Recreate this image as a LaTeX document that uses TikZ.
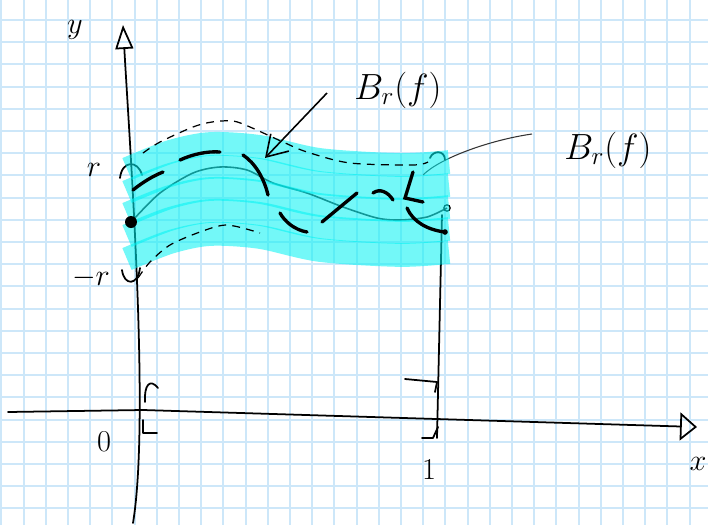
\documentclass[tikz,border=0pt]{standalone}
\usepackage{xcolor}
\usepackage{tikz}
\usetikzlibrary{arrows.meta}
\definecolor{gridblue}{HTML}{CDE7F9}
\definecolor{bandcyan}{HTML}{00F4F4}
\begin{document}
\begin{tikzpicture}[x=0.02cm, y=-0.02cm,
  every node/.style={font=\fontsize{17}{20}\selectfont},
  gridline/.style={gridblue, line width=1.1pt},
  axis/.style={black, line width=1pt, line cap=round, line join=round},
  bandstroke/.style={bandcyan, opacity=0.55, line width=13.5pt},
  thindash/.style={black, line width=0.7pt, dash pattern=on 4.5pt off 3.5pt},
  thickdash/.style={black, line width=1.9pt, line cap=round},
  biglabel/.style={font=\fontsize{21}{25}\selectfont}]
  \useasboundingbox (0,0) rectangle (708,525);
  \fill[white] (0,0) rectangle (708,525);
  \foreach \i in {0,...,31} \draw[gridline] ({1.4+22.2*\i},0) -- ++(0,525);
  \foreach \j in {1,...,23} \draw[gridline] (0,{-2.2+22.2*\j}) -- ++(708,0);
  % axes
  \coordinate (ybot) at (133,523);
  \coordinate (ytop) at (123,25);
  \coordinate (xleft) at (8,412);
  \coordinate (orig) at (143,410);
  \coordinate (xtip) at (697,427);
  \coordinate (onebot) at (437,438);
  \coordinate (onetop) at (442,215);
  \draw[axis, -{Triangle[open,length=0.48cm,width=0.36cm]}] (ybot) .. controls (150,420) and (130,150) .. (ytop);
  \draw[axis, -{Triangle[open,length=0.34cm,width=0.56cm]}] (xleft) -- (orig) -- (xtip);
  \draw[axis] (onebot) -- (onetop);
  \draw[axis] (145,402) .. controls (144,385) and (150,378) .. (158,388);
  \draw[axis] (143,420) -- (143,433) -- (157,433);
  \draw[axis] (405,379) -- (437,382) -- (435,392);
  \draw[axis] (422,438) -- (433,438) -- (438,427);
  \draw[axis] (120,178) .. controls (122,160) and (138,160) .. (142,175);
  \draw[axis] (122,270) .. controls (124,286) and (138,286) .. (140,268);
  \draw[axis] (430,158) .. controls (433,150) and (445,150) .. (445,160);
  % f
  \draw[black!85, line width=0.9pt] plot[smooth] coordinates {(133,220) (160,193) (193,173) (220,167) (247,170) (273,183) (307,193) (343,207) (377,218) (400,220) (427,217) (447,208)};
  \draw[black, line width=0.7pt] (447,208) circle[radius=1.8pt];
  % leader of the second label
  \node[biglabel] (lblB) at (608,150) {$B_r(f)$};
  \coordinate (legB) at (532,134);
  \coordinate (tipB) at (423,175);
  \draw[black!80, line width=0.6pt] (legB) .. controls (490,140) and (440,158) .. (tipB);
  % band
  \foreach \d in {-45,-22,0,22,45}
    \draw[bandstroke, shift={(0,\d)}] plot[smooth] coordinates {(127,214) (170,197) (210,189) (260,192) (320,205) (400,210) (449,207)};
  \node[circle, fill=black, inner sep=0pt, minimum size=0.24cm] (fstart) at (131,222) {};
  % r and -r
  \draw[thindash] plot[smooth] coordinates {(143,153) (160,142) (193,127) (212,122) (233,121) (250,127) (283,142) (307,152) (350,163) (413,165) (428,162)};
  \draw[thindash] plot[smooth] coordinates {(138,278) (150,262) (170,245) (200,232) (227,225) (260,233)};
  % thick dashes
  \draw[thickdash] (133,190) .. controls (143,182) and (153,176) .. (163,172);
  \draw[thickdash] (180,160) .. controls (193,154) and (208,151) .. (220,152);
  \draw[thickdash] (243,155) .. controls (255,163) and (264,178) .. (268,195);
  \draw[thickdash] (280,213) .. controls (285,222) and (295,230) .. (307,232);
  \draw[thickdash] (322,222) -- (357,193);
  \draw[thickdash] (373,193) .. controls (380,188) and (388,192) .. (393,200);
  \draw[thickdash] (413,172) -- (405,198) -- (423,202);
  \draw[thickdash] (407,208) .. controls (413,222) and (428,230) .. (445,232);
  \fill (445,232) circle[radius=1.6pt];
  % first label and arrow
  \node[biglabel] (lblA) at (398,90) {$B_r(f)$};
  \coordinate (legA) at (327,93);
  \coordinate (tipA) at (265,158);
  \draw[black, line width=0.9pt, -{Straight Barb[length=0.4cm,width=0.5cm]}] (legA) -- (tipA);
  % axis labels
  \node (ylab) at (75,30) {$y$};
  \node (xlab) at (698,464) {$x$};
  \node (zero) at (104,442) {$0$};
  \node (one) at (429,470) {$1$};
  \node (rlab) at (94,170) {$r$};
  \node (mrlab) at (91,278) {$-r$};
\end{tikzpicture}
\end{document}
